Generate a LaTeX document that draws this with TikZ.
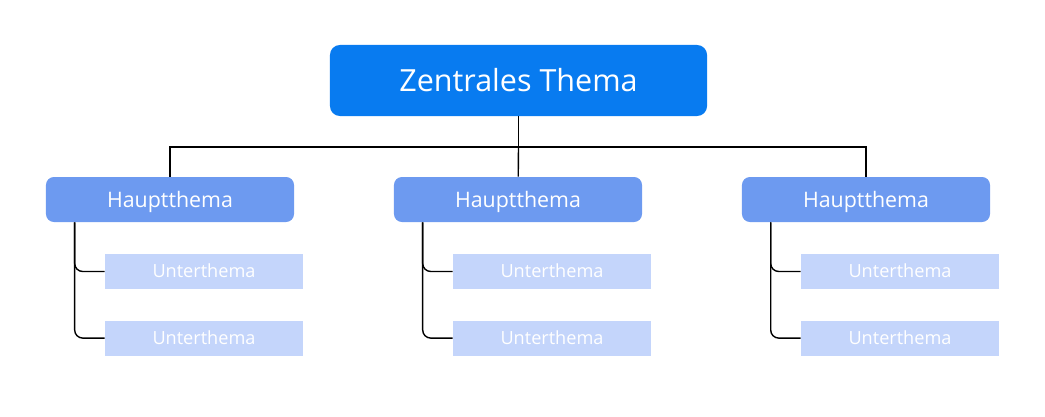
\documentclass[tikz,border=0pt]{standalone}
\usepackage{fontspec}
\setmainfont{Open Sans}
\usetikzlibrary{positioning}

\definecolor{zentralblau}{RGB}{8,123,240}
\definecolor{hauptblau}{RGB}{109,154,240}
\definecolor{unterblau}{RGB}{196,213,251}

\begin{document}
\begin{tikzpicture}
	[x=0.025cm, y=-0.025cm,
	zentral/.style={fill = zentralblau, rounded corners = 0.25cm, minimum width = 9.425cm, minimum height = 1.775cm, text = white, font = \fontsize{21.7}{26}\selectfont, text height = 15.5pt, text depth = 0pt},
	haupt/.style={fill = hauptblau, rounded corners = 0.2cm, minimum width = 6.2cm, minimum height = 1.125cm, text = white, font = \fontsize{15.2}{18}\selectfont, text height = 10.85pt, text depth = 0pt},
	unter/.style={fill = unterblau, minimum width = 4.95cm, minimum height = 0.875cm, text = white, font = \fontsize{12.9}{15}\selectfont, text height = 9.2pt, text depth = 0pt},
	ast/.style={line width = 1pt, black}]
	\useasboundingbox (0, 0) rectangle (1045, 416);

	\node[zentral] (zentral) at (518.5, 80.5) {Zentrales Thema};
	\coordinate (gabel) at (518.5, 147);

	\node[haupt] (haupt1) at (170, 199.5) {Hauptthema};
	\node[haupt] (haupt2) at (518, 199.5) {Hauptthema};
	\node[haupt] (haupt3) at (866, 199.5) {Hauptthema};

	\node[unter] (unter11) at (204, 271.5) {Unterthema};
	\node[unter, below = 0.775cm of unter11] (unter12) {Unterthema};
	\node[unter] (unter21) at (552, 271.5) {Unterthema};
	\node[unter, below = 0.775cm of unter21] (unter22) {Unterthema};
	\node[unter] (unter31) at (900, 271.5) {Unterthema};
	\node[unter, below = 0.775cm of unter31] (unter32) {Unterthema};

	% Zentrales Thema zu den Hauptthemen
	\draw[ast] (zentral) -- (gabel);
	\draw[ast] (gabel) -| (haupt1);
	\draw[ast] (gabel) -- (haupt2);
	\draw[ast] (gabel) -| (haupt3);

	% Hauptthemen zu den Unterthemen
	\draw[ast, rounded corners = 0.2cm] ([xshift = 0.725cm]haupt1.south west) |- (unter11.west);
	\draw[ast, rounded corners = 0.2cm] ([xshift = 0.725cm]haupt1.south west) |- (unter12.west);
	\draw[ast, rounded corners = 0.2cm] ([xshift = 0.725cm]haupt2.south west) |- (unter21.west);
	\draw[ast, rounded corners = 0.2cm] ([xshift = 0.725cm]haupt2.south west) |- (unter22.west);
	\draw[ast, rounded corners = 0.2cm] ([xshift = 0.725cm]haupt3.south west) |- (unter31.west);
	\draw[ast, rounded corners = 0.2cm] ([xshift = 0.725cm]haupt3.south west) |- (unter32.west);
\end{tikzpicture}
\end{document}
